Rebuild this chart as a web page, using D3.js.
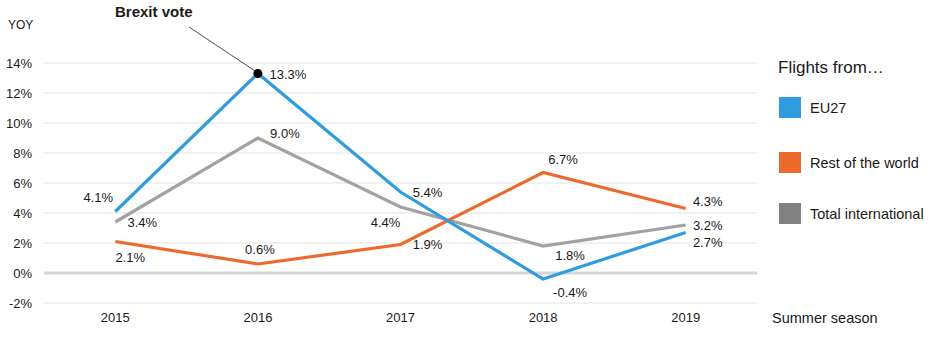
<!DOCTYPE html>
<html>
<head>
<meta charset="utf-8">
<script src="https://cdn.jsdelivr.net/npm/d3@7"></script>
<style>
  body { margin: 0; background: #fff; }
  text { font-family: "Liberation Sans", Arial, sans-serif; fill: #1a1a1a; }
</style>
</head>
<body>
<div id="chart"></div>
<script>
var years = ["2015", "2016", "2017", "2018", "2019"];
var eu27 = [4.1, 13.3, 5.4, -0.4, 2.7];
var restOfWorld = [2.1, 0.6, 1.9, 6.7, 4.3];
var totalIntl = [3.4, 9.0, 4.4, 1.8, 3.2];
var yTicks = [-2, 0, 2, 4, 6, 8, 10, 12, 14];
var seriesNames = ["EU27", "Rest of the world", "Total international"];

// label offsets (dx, dy) per point, by series
var labelPos = {
  "EU27": [[-17, -14], [30, 1], [27, 0], [27, 13], [22, 10]],
  "Rest of the world": [[15, 16], [2, -15], [27, 0], [20, -13], [22, -7]],
  "Total international": [[27, 0], [27, -5], [-15, 15], [27, 9], [22, 0]]
};

var width = 938, height = 340;
var svg = d3.select("#chart").append("svg")
  .attr("width", width).attr("height", height);

var x = d3.scaleBand().domain(years).range([44, 757]);
var y = d3.scaleLinear().domain([-2, 14]).range([303, 63]);
var cx = function(d){ return x(d) + x.bandwidth() / 2; };

// gridlines
svg.append("g").selectAll("line")
  .data(yTicks).enter().append("line")
  .attr("x1", 44).attr("x2", 757)
  .attr("y1", function(d){ return y(d); })
  .attr("y2", function(d){ return y(d); })
  .attr("stroke", function(d){ return d === 0 ? "#d6d6d6" : "#e3e3e3"; })
  .attr("stroke-width", function(d){ return d === 0 ? 3 : 1; });

// y axis labels
var yAxis = d3.axisLeft(y).tickValues(yTicks)
  .tickFormat(function(d){ return d + "%"; })
  .tickSize(0).tickPadding(0);
var ya = svg.append("g").attr("transform", "translate(32,0)").call(yAxis);
ya.select(".domain").remove();
ya.selectAll("text").style("font-size", "13px").attr("fill", "#1a1a1a")
  .style("font-family", "'Liberation Sans', Arial, sans-serif");

// x axis labels
var xAxis = d3.axisBottom(x).tickSize(0).tickPadding(0);
var xa = svg.append("g").attr("transform", "translate(0,313)").call(xAxis);
xa.select(".domain").remove();
xa.selectAll("text").style("font-size", "13px").attr("fill", "#1a1a1a")
  .style("font-family", "'Liberation Sans', Arial, sans-serif");

svg.append("text").attr("x", 8).attr("y", 29).style("font-size", "12px").text("YOY");
svg.append("text").attr("x", 772).attr("y", 323).style("font-size", "14.5px").text("Summer season");

var series = [
  { name: "EU27", values: eu27, color: "#2f9ce0", swatch: "#2f9ce0" },
  { name: "Rest of the world", values: restOfWorld, color: "#eb6a2c", swatch: "#eb6a2c" },
  { name: "Total international", values: totalIntl, color: "#a2a2a2", swatch: "#828282" }
];

var line = d3.line()
  .x(function(d){ return cx(d.year); })
  .y(function(d){ return y(d.v); });

// draw order: total, rest, eu27 on top
[series[2], series[1], series[0]].forEach(function(s){
  var pts = years.map(function(yr, i){ return { year: yr, v: s.values[i] }; });
  svg.append("path").datum(pts)
    .attr("fill", "none")
    .attr("stroke", s.color)
    .attr("stroke-width", 3.2)
    .attr("d", line);
});

// value labels
series.forEach(function(s){
  svg.append("g").selectAll("text")
    .data(s.values).enter().append("text")
    .attr("x", function(d, i){ return cx(years[i]) + labelPos[s.name][i][0]; })
    .attr("y", function(d, i){ return y(d) + labelPos[s.name][i][1]; })
    .attr("text-anchor", "middle")
    .attr("dy", "0.35em")
    .style("font-size", "13px")
    .text(function(d){ return d.toFixed(1) + "%"; });
});

// Brexit annotation
var bx = cx("2016"), by = y(eu27[1]);
svg.append("line")
  .attr("x1", 189).attr("y1", 27)
  .attr("x2", bx - 2).attr("y2", by - 2)
  .attr("stroke", "#222").attr("stroke-width", 0.8);
svg.append("circle").attr("cx", bx).attr("cy", by).attr("r", 4.5).attr("fill", "#000");
svg.append("text").attr("x", 115).attr("y", 17)
  .style("font-size", "15px").style("font-weight", "bold").text("Brexit vote");

// legend
var legend = svg.append("g").attr("transform", "translate(778,0)");
legend.append("text").attr("x", 0).attr("y", 73).style("font-size", "17px").text("Flights from\u2026");
var legY = [108, 163, 214];
series.forEach(function(s, i){
  legend.append("rect").attr("x", 1).attr("y", legY[i] - 11)
    .attr("width", 22).attr("height", 21).attr("fill", s.swatch);
  legend.append("text").attr("x", 32).attr("y", legY[i]).attr("dy", "0.35em")
    .style("font-size", "14.5px").text(s.name);
});
</script>
</body>
</html>
